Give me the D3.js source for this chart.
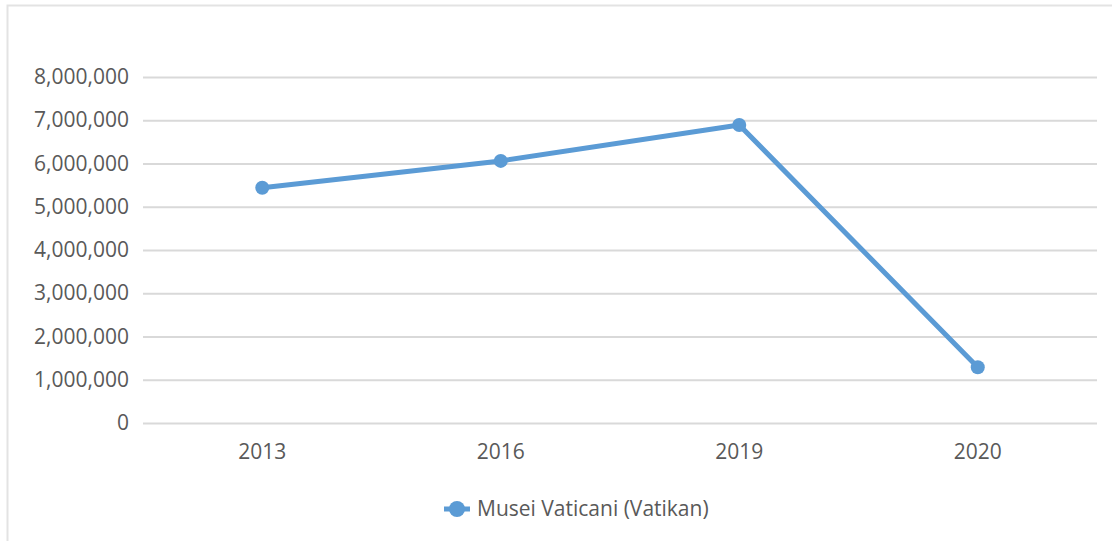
<!DOCTYPE html>
<html>
<head>
<meta charset="utf-8">
<script src="https://cdn.jsdelivr.net/npm/d3@7"></script>
<style>
  body { margin: 0; background: #fff; }
  text { font-family: "Open Sans", "Noto Sans", sans-serif; fill: #595959; }
</style>
</head>
<body>
<script>
// data
var years = ["2013", "2016", "2019", "2020"];
var visitors = [5440000, 6060000, 6890000, 1290000];
var yTicks = [0, 1000000, 2000000, 3000000, 4000000, 5000000, 6000000, 7000000, 8000000];
var seriesName = "Musei Vaticani (Vatikan)";

var W = 1112, H = 541;
var margin = { top: 77, right: 15, bottom: 118, left: 143 };
var w = W - margin.left - margin.right;
var h = H - margin.top - margin.bottom;
var blue = "#5b9bd5";

var svg = d3.select("body").append("svg")
    .attr("width", W)
    .attr("height", H);

// faint chart border
svg.append("rect")
    .attr("x", 7.5).attr("y", 5.5)
    .attr("width", W + 10).attr("height", H + 10)
    .attr("fill", "none")
    .attr("stroke", "#e3e3e3")
    .attr("stroke-width", 2);

var g = svg.append("g")
    .attr("transform", "translate(" + margin.left + "," + margin.top + ")");

var xScale = d3.scaleBand().domain(years).range([0, w]);
var yScale = d3.scaleLinear().domain([0, 8000000]).range([h, 0]);

// gridlines + y labels
var yAxis = d3.axisLeft(yScale)
    .tickValues(yTicks)
    .tickSize(-w)
    .tickPadding(14)
    .tickFormat(d3.format(","));
var gy = g.append("g").call(yAxis);
gy.select(".domain").remove();
gy.selectAll("line").attr("stroke", "#d9d9d9").attr("stroke-width", 2);
gy.selectAll("text")
    .attr("x", -14)
    .style("font-size", "21px")
    .attr("fill", "#595959");

// x labels
var xAxis = d3.axisBottom(xScale).tickSize(0).tickPadding(21);
var gx = g.append("g")
    .attr("transform", "translate(0," + h + ")")
    .call(xAxis);
gx.select(".domain").remove();
gx.selectAll("text")
    .style("font-size", "21px")
    .attr("fill", "#595959");

// the line
var pts = years.map(function (d, i) { return { year: d, value: visitors[i] } });
var line = d3.line()
    .x(function (d) { return xScale(d.year) + xScale.bandwidth() / 2 })
    .y(function (d) { return yScale(d.value) });

g.append("path")
    .datum(pts)
    .attr("d", line)
    .attr("fill", "none")
    .attr("stroke", blue)
    .attr("stroke-width", 5)
    .attr("stroke-linejoin", "round");

g.selectAll("circle.pt")
    .data(pts)
    .enter()
  .append("circle")
    .attr("class", "pt")
    .attr("cx", function (d) { return xScale(d.year) + xScale.bandwidth() / 2 })
    .attr("cy", function (d) { return yScale(d.value) })
    .attr("r", 7)
    .attr("fill", blue);

// legend
var lg = svg.append("g").attr("transform", "translate(457,509)");
lg.append("line")
    .attr("x1", -13).attr("x2", 13)
    .attr("stroke", blue).attr("stroke-width", 5);
lg.append("circle").attr("r", 8).attr("fill", blue);
lg.append("text")
    .attr("x", 20)
    .attr("dy", "0.35em")
    .style("font-size", "21px")
    .text(seriesName);
</script>
</body>
</html>
